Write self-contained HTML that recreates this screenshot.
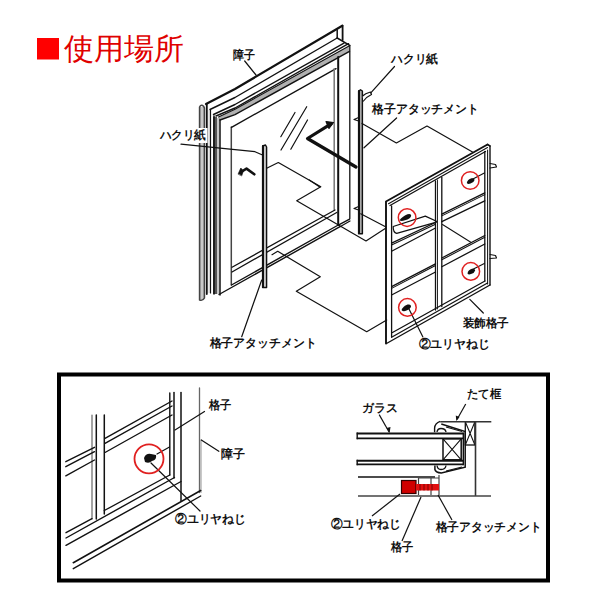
<!DOCTYPE html>
<html><head><meta charset="utf-8">
<style>
html,body{margin:0;padding:0;background:#fff;width:600px;height:600px;overflow:hidden}
svg{position:absolute;left:0;top:0}
text{font-family:"Liberation Sans",sans-serif;font-weight:bold;fill:#111}
.t{font-size:12px}
</style></head><body>
<svg width="600" height="600" viewBox="0 0 600 600">
<!-- title -->
<rect x="37" y="38" width="22" height="21.5" fill="#ff0000"/>
<text x="63.5" y="59" style="font-size:29.5px;font-weight:normal;fill:#e00000">使用場所</text>

<g fill="none" stroke="#111" stroke-linecap="round" stroke-linejoin="round">
<!-- ===== SHOJI ===== -->
<!-- stile shading -->
<rect x="200" y="107" width="4.5" height="192" fill="#c8c8c8" stroke="none"/>
<rect x="213" y="117" width="4" height="177" fill="#555" stroke="none"/>
<rect x="217" y="118" width="2.5" height="176" fill="#c8c8c8" stroke="none"/>
<rect x="207.5" y="110" width="3" height="183" fill="#e8e8e8" stroke="none"/>
<!-- outer post -->
<path d="M199.6,300 L199.6,107 Q200.5,105 202,105.3 Q204,106 204.4,108 L204.4,298 Q203,301 199.6,300" stroke-width="1.6" stroke="#444"/>
<!-- left stile -->
<line x1="206.8" y1="104.5" x2="206.8" y2="294" stroke-width="1.8"/>
<line x1="210.5" y1="110" x2="210.5" y2="293" stroke-width="1.2"/>
<line x1="214" y1="116" x2="214" y2="294" stroke-width="1.6"/>
<line x1="220" y1="118" x2="220" y2="295" stroke-width="1.5"/>
<line x1="231.3" y1="127" x2="231.3" y2="285" stroke-width="1.5" stroke="#444"/>
<!-- top rail -->
<polyline points="206,104 235,89 342.3,25.7" stroke-width="2.2"/>
<line x1="342.6" y1="25.7" x2="342.6" y2="40" stroke-width="1.8"/>
<line x1="337.2" y1="30" x2="337.2" y2="38" stroke-width="1.5"/>
<line x1="337.2" y1="38" x2="349.7" y2="45.3" stroke-width="1.5"/>
<polyline points="210,109.5 235,97.5 337.2,38" stroke-width="1.4"/>
<polyline points="213.5,114.5 235,104.5 344,43.1" stroke-width="1.4"/>
<polyline points="216,116 235,108 348.5,43.7" stroke-width="1.4"/>
<polygon points="218.5,117 235,109.2 349.5,45.7 349.5,51.3 235,114.6 220,120" fill="#b0b0b0" stroke="none"/>
<polyline points="218.5,117 235,109.2 349.5,45.7" stroke-width="1.05"/>
<polyline points="220,120 235,114.6 349.5,51.3" stroke-width="1.4"/>
<line x1="231.5" y1="127.3" x2="336" y2="68.7" stroke-width="1.4"/>
<!-- right stile -->
<line x1="334.2" y1="68.7" x2="334.2" y2="210.3" stroke-width="1.5" stroke="#777"/>
<line x1="338.2" y1="57" x2="338.2" y2="225" stroke-width="2"/>
<line x1="349.8" y1="45.5" x2="349.8" y2="218.5" stroke-width="1.3"/>
<!-- bottom rail -->
<line x1="232" y1="267.3" x2="335" y2="210" stroke-width="1.3"/>
<line x1="232" y1="272" x2="336.7" y2="212.5" stroke-width="1.3"/>
<line x1="231.5" y1="285" x2="338.3" y2="225" stroke-width="1.4"/>
<line x1="219" y1="294.5" x2="340" y2="226.7" stroke-width="1.4"/>
<line x1="338.3" y1="225.2" x2="349.6" y2="219.2" stroke-width="1.4"/>
<line x1="340" y1="226.7" x2="350" y2="221" stroke-width="1.2"/>
<!-- glass reflections -->
<line x1="280.8" y1="136.7" x2="295" y2="112.5" stroke-width="1.2"/>
<line x1="281" y1="150" x2="306.7" y2="106.7" stroke-width="1.2"/>
<line x1="290.8" y1="149.2" x2="307.5" y2="120" stroke-width="1.2"/>
<!-- へ mark -->
<polyline points="241,172 246.5,168.6 254.3,174.3" stroke-width="2.6"/>
<polygon points="238.2,173.8 240.8,168 243.5,170.8 241.8,175.6" fill="#111" stroke-width="0.6"/>
<!-- arrow -->
<polyline points="331,123.8 307.5,138.5 356,167" stroke-width="3.2"/>
<polygon points="333.5,122.5 326,121.5 329,128.5" fill="#111" stroke-width="1.2"/>
<!-- left hakuri strip -->
<path d="M262.6,287.5 L262.6,146 L265.5,145 L266.6,147 L266.6,287.5 Z" stroke-width="1.4" fill="#c8c8c8"/>
<line x1="263" y1="146" x2="263" y2="287" stroke-width="2"/>
<!-- right strip -->
<path d="M358.6,233.7 L358.6,91 L360.5,89.8 L362.4,91 L362.4,233.7 Z" stroke-width="1.4" fill="#aaa"/>
<line x1="359" y1="91" x2="359" y2="233" stroke-width="2"/>
<path d="M362.6,96 Q365,93.5 370.5,92 L371.5,94.5 Q367,96.5 363.5,101" stroke-width="1.2" fill="#fff"/>
<path d="M354,119.5 L358.6,117.5 M354,119.5 L358.6,121" stroke-width="1.2"/>
<path d="M354,208.5 L358.6,206.5 M354,208.5 L358.6,210" stroke-width="1.2"/>
<!-- zigzags -->
<g stroke-width="1.2">
<polyline points="266.7,168.3 278.3,162.5 320.8,186.7 296.7,200.8 366,241 386,228"/>
<polyline points="309.3,180 319.8,187"/>
<polyline points="362,123.5 396.4,143 427,126 472.5,152"/>
<polyline points="360.7,213.8 386,227"/>
<polyline points="272,254.7 277.7,251.3 320.3,276.7 296.3,291.3 366.7,331.7 386.7,320"/>
</g>
<!-- leaders -->
<g stroke-width="1.2">
<line x1="244.7" y1="61" x2="256" y2="75"/>
<line x1="394.5" y1="66.5" x2="370.8" y2="92.8"/>
<line x1="396.6" y1="118" x2="364" y2="147.8"/>
<polyline points="181,144.2 230,149.2 255,151.7 262.5,155"/>
<line x1="261.7" y1="280" x2="241.7" y2="336.7"/>
<line x1="469.8" y1="299.4" x2="483.3" y2="313"/>
<line x1="409" y1="309" x2="422.9" y2="336.9"/>
</g>

<!-- ===== LATTICE ===== -->
<g stroke-width="1.3">
<polyline points="386,343.5 386,201.5 487.5,144.5" stroke-width="1.9"/>
<line x1="487.5" y1="144.5" x2="490" y2="146" stroke-width="1.5"/>
<line x1="490" y1="146" x2="490" y2="285" stroke-width="1.4"/>
<line x1="487.6" y1="150" x2="487.6" y2="284" stroke-width="1.05"/>
<line x1="386.5" y1="343.5" x2="490" y2="285" stroke-width="1.4"/>
<line x1="388.5" y1="203.8" x2="487.5" y2="147.5" stroke-width="1.05"/>
<line x1="390" y1="205.5" x2="485.5" y2="151.5"/>
<line x1="391.6" y1="206" x2="391.6" y2="337"/>
<line x1="391.6" y1="337.2" x2="487.5" y2="283"/>
<line x1="392.5" y1="332.5" x2="485" y2="281"/>
<line x1="484.8" y1="151.5" x2="484.8" y2="281"/>
<!-- mullion -->
<line x1="435.5" y1="181" x2="435.5" y2="310"/>
<line x1="437.5" y1="180" x2="437.5" y2="309" stroke-width="0.9"/>
<line x1="441.8" y1="177.5" x2="441.8" y2="306.5"/>
<!-- rails -->
<line x1="391.6" y1="243.2" x2="435.5" y2="222.5"/>
<line x1="391.6" y1="245" x2="435.5" y2="224.3" stroke-width="1.05"/>
<line x1="391.6" y1="251.2" x2="435.5" y2="228"/>
<line x1="441.8" y1="214.2" x2="484.8" y2="192.9"/>
<line x1="441.8" y1="215.9" x2="484.8" y2="194.6" stroke-width="1.05"/>
<line x1="441.8" y1="221.7" x2="484.8" y2="200.8"/>
<line x1="391.6" y1="286.7" x2="435.5" y2="263.8"/>
<line x1="391.6" y1="288.4" x2="435.5" y2="265.5" stroke-width="1.05"/>
<line x1="391.6" y1="295" x2="435.5" y2="272"/>
<line x1="441.8" y1="258" x2="484.8" y2="235.5"/>
<line x1="441.8" y1="259.8" x2="484.8" y2="237.3" stroke-width="1.05"/>
<line x1="441.8" y1="266.7" x2="484.8" y2="244"/>
<!-- shelf -->
<path d="M393.2,226.5 L425.3,216.1 L436.5,221.3 L436.5,222.1 L396.7,233.4 Q393,232.5 393.2,226.5 Z" stroke-width="1.2"/>
<line x1="442.5" y1="224.5" x2="470.8" y2="242.2" stroke-width="1.05"/>
</g>
<!-- tabs right of lattice -->
<path d="M490,163.5 L495.5,164.5 L496.5,167 L490,168 M490,254.5 L495.5,255.5 L496.5,258 L490,258.5" stroke-width="1.2"/>
</g>

<!-- screws + red circles (top) -->
<g fill="#111">
<path d="M466.8,183 Q467.5,179.5 471.5,178.3 Q474.5,177.8 474.6,180 Q474,182.5 470.5,183.5 Q468,184.5 466.8,183 Z"/>
<path d="M399.5,220.3 Q402,216.5 407.5,214.2 Q411.3,213.2 411.2,215.8 Q410.5,218.8 405,220.3 Q401,221.5 399.5,220.3 Z"/>
<path d="M467.5,273.5 Q468,270 472,268.8 Q475.2,268.3 475.2,270.5 Q474.5,273 471,274 Q468.5,275 467.5,273.5 Z"/>
<path d="M401.5,310 Q403,306.5 407.5,304.6 Q411,303.8 411,306.3 Q410.5,309 406.5,310.6 Q403,312 401.5,310 Z"/>
</g>
<g stroke="#111" stroke-width="1.05">
<line x1="472" y1="179.5" x2="484.8" y2="172.7"/>
<line x1="472.5" y1="269.5" x2="484.8" y2="263.2"/>
</g>
<g fill="none" stroke="#e02020" stroke-width="1.5">
<circle cx="470.2" cy="180.5" r="8.8"/>
<circle cx="407.1" cy="217.6" r="8.8"/>
<circle cx="470.8" cy="271.4" r="8.8"/>
<circle cx="407.4" cy="307.4" r="8.8"/>
</g>

<!-- top labels -->
<rect x="158" y="128" width="49.5" height="15" fill="#fff"/>
<text class="t" x="232.5" y="58.5" style="font-size:11.50px" textLength="22.0" lengthAdjust="spacingAndGlyphs">障子</text>
<text class="t" x="391.0" y="63.0" style="font-size:11.50px" textLength="47.0" lengthAdjust="spacingAndGlyphs">ハクリ紙</text>
<text class="t" x="372.0" y="113.0" style="font-size:11.50px" textLength="107.0" lengthAdjust="spacingAndGlyphs">格子アタッチメント</text>
<text class="t" x="159.5" y="139.0" style="font-size:11.50px" textLength="46.5" lengthAdjust="spacingAndGlyphs">ハクリ紙</text>
<text class="t" x="462.5" y="326.5" style="font-size:11.50px" textLength="46.5" lengthAdjust="spacingAndGlyphs">装飾格子</text>
<text class="t" x="418.5" y="347.5" style="font-size:11.50px" textLength="71.0" lengthAdjust="spacingAndGlyphs">②ユリヤねじ</text>
<text class="t" x="209.5" y="347.0" style="font-size:11.50px" textLength="107.0" lengthAdjust="spacingAndGlyphs">格子アタッチメント</text>

<!-- ===== BOTTOM BOX ===== -->
<rect x="59" y="374.5" width="489" height="206" fill="none" stroke="#000" stroke-width="4"/>

<g fill="none" stroke="#111" stroke-linecap="round">
<!-- left detail: vertical bars -->
<line x1="92" y1="415" x2="92" y2="519" stroke-width="1.2" stroke="#666"/>
<line x1="96.3" y1="415" x2="96.3" y2="519" stroke-width="1.5"/>
<line x1="104.3" y1="415" x2="104.3" y2="514" stroke-width="1.5"/>
<line x1="169.8" y1="393" x2="169.8" y2="475" stroke-width="1.4"/>
<line x1="174" y1="392.5" x2="174" y2="478" stroke-width="1.5"/>
<line x1="181" y1="392.5" x2="181" y2="501" stroke-width="1.5"/>
<line x1="199.5" y1="388" x2="199.5" y2="492.5" stroke-width="1.3" stroke="#666"/>
<line x1="201" y1="440" x2="201" y2="492.5" stroke-width="0.9" stroke="#888"/>
<!-- rails -->
<line x1="105" y1="438.3" x2="172" y2="401" stroke-width="1.4"/>
<line x1="105" y1="443.3" x2="172" y2="406" stroke-width="1.4"/>
<line x1="105" y1="452.5" x2="172" y2="415" stroke-width="1.4"/>
<line x1="65.8" y1="461.7" x2="94.5" y2="447.3" stroke-width="1.4"/>
<line x1="65.8" y1="466.7" x2="94.5" y2="451.7" stroke-width="1.4"/>
<line x1="65.8" y1="475.8" x2="94.5" y2="460" stroke-width="1.4"/>
<!-- lower rails -->
<line x1="66" y1="532.7" x2="92" y2="518.7" stroke-width="1.4"/>
<line x1="104.3" y1="510.5" x2="169.8" y2="475" stroke-width="1.4"/>
<line x1="66" y1="538" x2="174.5" y2="477.5" stroke-width="1.4"/>
<line x1="66" y1="545.3" x2="181" y2="481.5" stroke-width="1.4"/>
<line x1="73.3" y1="562.7" x2="200.7" y2="490.5" stroke-width="1.6"/>
<line x1="73.3" y1="568.7" x2="200.7" y2="496" stroke-width="1.4"/>
<!-- screw shaft and leaders -->
<line x1="157" y1="454" x2="169.5" y2="447" stroke-width="1.2"/>
<line x1="151" y1="463" x2="200" y2="511" stroke-width="1.2"/>
<line x1="175" y1="430" x2="204.5" y2="411.5" stroke-width="1.2"/>
<line x1="201.3" y1="440" x2="218.8" y2="451.3" stroke-width="1.2"/>
</g>
<path d="M144,458 Q146,453 151,454 L156,455 Q157,460 152,461 Q149,464 145,462 Z" fill="#111"/>
<circle cx="149" cy="458.8" r="14.5" fill="none" stroke="#e02020" stroke-width="1.8"/>

<!-- right cross-section -->
<g fill="none" stroke="#111" stroke-linecap="butt">
<line x1="356.7" y1="433.5" x2="463.5" y2="433.5" stroke-width="2.1"/>
<line x1="356.7" y1="438.3" x2="463.5" y2="438.3" stroke-width="1.7"/>
<line x1="357.2" y1="432.5" x2="357.2" y2="439.2" stroke-width="1.4"/>
<line x1="356.7" y1="460.8" x2="463.5" y2="460.8" stroke-width="2.1"/>
<line x1="356.7" y1="464.3" x2="463.5" y2="464.3" stroke-width="1.7"/>
<line x1="357.2" y1="459.8" x2="357.2" y2="465.2" stroke-width="1.4"/>
<line x1="463.3" y1="432.5" x2="463.3" y2="465.2" stroke-width="1.4"/>
<rect x="443" y="438.8" width="18.2" height="21" stroke-width="1.5"/>
<path d="M443,438.8 L461.2,459.8 M461.2,438.8 L443,459.8" stroke-width="1.05"/>
<!-- frame profile / bead -->
<path d="M440.2,421.3 Q435,423 434.6,428 L434.6,432.3" stroke-width="1.4"/>
<path d="M441.3,424 L465.2,431.6 L465.2,467.2 L441.3,473 Q435.5,472.5 434.9,469.5 L434.9,465.5" stroke-width="1.5"/>
<path d="M437,432 Q437.5,428.5 441,428.5 Q445.5,428.5 446,432" stroke-width="1.3"/>
<path d="M437,465.5 Q437.5,469.5 441,469.5 Q445.5,469.5 446,465.5" stroke-width="1.3"/>
<path d="M446,427 L462,431.5 M446,471 L462,467" stroke-width="1.05"/>
<rect x="465.3" y="421.7" width="9.6" height="23.3" stroke-width="1.3"/>
<path d="M465.3,421.7 L474.9,445 M474.9,421.7 L465.3,445" stroke-width="1.05"/>
<line x1="440.2" y1="421.7" x2="491.3" y2="421.7" stroke-width="1.4" stroke="#333"/>
<line x1="475.5" y1="421.7" x2="475.5" y2="496" stroke-width="1.6" stroke="#333"/>
<line x1="358" y1="477" x2="435" y2="477" stroke-width="1.5"/>
<line x1="358" y1="496" x2="491" y2="496" stroke-width="1.7" stroke="#444"/>
<path d="M418.5,478 L418.5,495 M431,478 L431,495 M439,475 L439,495 M418.5,478 L439,478" stroke-width="1.2" stroke="#444"/>
<!-- leaders -->
<line x1="379.2" y1="414.6" x2="389.2" y2="432.3" stroke-width="1.2"/>
<line x1="465.7" y1="404" x2="457" y2="419.5" stroke-width="1.2"/>
<line x1="400" y1="494" x2="372" y2="516" stroke-width="1.2"/>
<line x1="421" y1="497" x2="402" y2="541" stroke-width="1.2"/>
<line x1="438" y1="495" x2="452" y2="520" stroke-width="1.2"/>
</g>
<path d="M389.6,433 L386.5,428 L390.5,427 Z" fill="#111"/>
<path d="M456.3,421 L455.8,415.5 L459.5,417 Z" fill="#111"/>
<rect x="401.5" y="480.5" width="14.5" height="13" fill="#d00000" stroke="#300" stroke-width="1.2"/>
<rect x="416" y="484" width="23" height="6.5" fill="#e01010"/>
<path d="M420,484 L420,490.5 M424,484 L424,490.5 M428,484 L428,490.5 M432,484 L432,490.5" stroke="#700" stroke-width="0.9"/>

<!-- bottom labels -->
<text class="t" x="208.5" y="408.5" style="font-size:11.50px" textLength="22.5" lengthAdjust="spacingAndGlyphs">格子</text>
<text class="t" x="220.5" y="457.5" style="font-size:11.50px" textLength="24.0" lengthAdjust="spacingAndGlyphs">障子</text>
<text class="t" x="175.0" y="522.5" style="font-size:11.50px" textLength="70.5" lengthAdjust="spacingAndGlyphs">②ユリヤねじ</text>
<text class="t" x="362.0" y="411.5" style="font-size:11.50px" textLength="35.8" lengthAdjust="spacingAndGlyphs">ガラス</text>
<text class="t" x="467.0" y="398.0" style="font-size:11.50px" textLength="33.8" lengthAdjust="spacingAndGlyphs">たて框</text>
<text class="t" x="330.5" y="528.0" style="font-size:11.50px" textLength="70.0" lengthAdjust="spacingAndGlyphs">②ユリヤねじ</text>
<text class="t" x="435.5" y="531.0" style="font-size:11.50px" textLength="106.0" lengthAdjust="spacingAndGlyphs">格子アタッチメント</text>
<text class="t" x="390.5" y="550.5" style="font-size:11.50px" textLength="22.5" lengthAdjust="spacingAndGlyphs">格子</text>
</svg>
</body></html>
